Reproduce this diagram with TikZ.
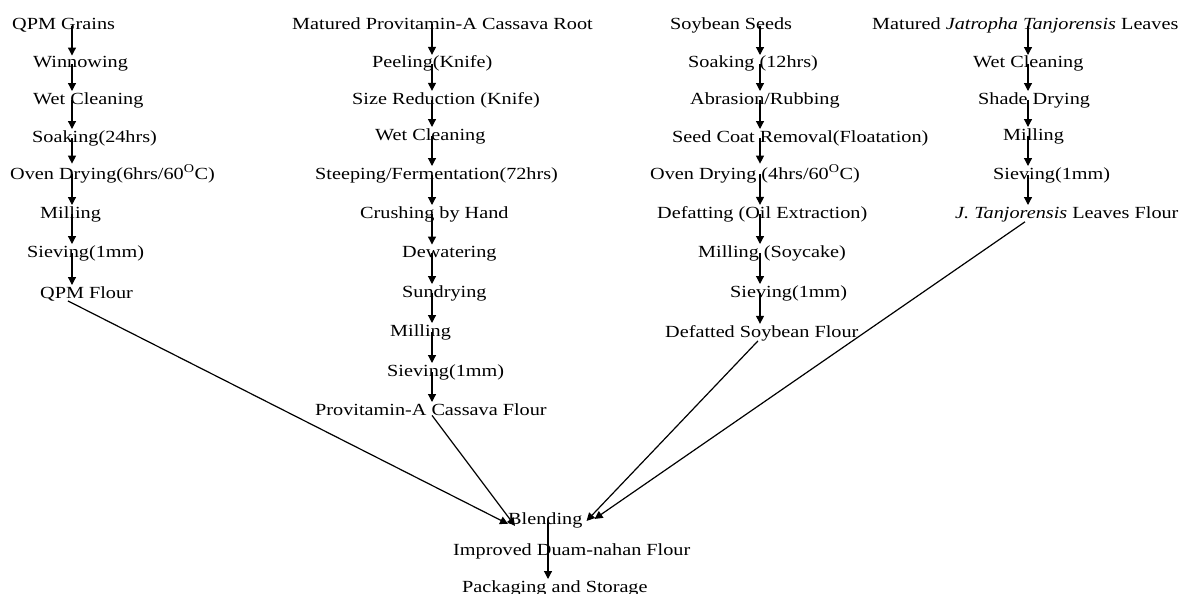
\documentclass[tikz,border=0pt]{standalone}
\usepackage{fontspec}
\setmainfont{Liberation Serif}[FakeStretch=1.19]
\usetikzlibrary{arrows.meta}
\begin{document}
\begin{tikzpicture}[x=1pt,y=-1pt,
  lbl/.style={anchor=base west,inner sep=0pt,font=\fontsize{17}{20}\selectfont},
  arr/.style={draw=black,line width=1.2pt,-{Triangle[length=8pt,width=8pt]},shorten >=1pt}]
\useasboundingbox (0,0) rectangle (1184,594);
\coordinate (X1) at (72,0);
\coordinate (X2) at (432,0);
\coordinate (X3) at (760,0);
\coordinate (X4) at (1028,0);
\coordinate (X5) at (548,0);
% QPM column
\node[lbl] (q1) at (12,30) {QPM Grains};
\node[lbl] (q2) at (33,68) {Winnowing};
\node[lbl] (q3) at (33,104) {Wet Cleaning};
\node[lbl] (q4) at (32,142) {Soaking(24hrs)};
\node[lbl] (q5) at (10,179) {Oven Drying(6hrs/60\textsuperscript{O}C)};
\node[lbl] (q6) at (40,218) {Milling};
\node[lbl] (q7) at (27,257) {Sieving(1mm)};
\node[lbl] (q8) at (40,298) {QPM Flour};
% Cassava column
\node[lbl] (c1) at (292,30) {Matured Provitamin-A Cassava Root};
\node[lbl] (c2) at (372,68) {Peeling(Knife)};
\node[lbl] (c3) at (352,104) {Size Reduction (Knife)};
\node[lbl] (c4) at (375,140) {Wet Cleaning};
\node[lbl] (c5) at (315,179) {Steeping/Fermentation(72hrs)};
\node[lbl] (c6) at (360,218) {Crushing by Hand};
\node[lbl] (c7) at (402,257) {Dewatering};
\node[lbl] (c8) at (402,297) {Sundrying};
\node[lbl] (c9) at (390,336) {Milling};
\node[lbl] (c10) at (387,376) {Sieving(1mm)};
\node[lbl] (c11) at (315,415) {Provitamin-A Cassava Flour};
% Soybean column
\node[lbl] (s1) at (670,30) {Soybean Seeds};
\node[lbl] (s2) at (688,68) {Soaking (12hrs)};
\node[lbl] (s3) at (690,104) {Abrasion/Rubbing};
\node[lbl] (s4) at (672,142) {Seed Coat Removal(Floatation)};
\node[lbl] (s5) at (650,179) {Oven Drying (4hrs/60\textsuperscript{O}C)};
\node[lbl] (s6) at (657,218) {Defatting (Oil Extraction)};
\node[lbl] (s7) at (698,257) {Milling (Soycake)};
\node[lbl] (s8) at (730,297) {Sieving(1mm)};
\node[lbl] (s9) at (665,337) {Defatted Soybean Flour};
% Jatropha column
\node[lbl] (j1) at (872,30) {Matured \textit{Jatropha Tanjorensis} Leaves};
\node[lbl] (j2) at (973,68) {Wet Cleaning};
\node[lbl] (j3) at (978,104) {Shade Drying};
\node[lbl] (j4) at (1003,140) {Milling};
\node[lbl] (j5) at (993,179) {Sieving(1mm)};
\node[lbl] (j6) at (955,218) {\textit{J. Tanjorensis} Leaves Flour};
% Bottom
\node[lbl] (b1) at (508,524) {Blending};
\node[lbl] (b2) at (453,555) {Improved Duam-nahan Flour};
\node[lbl] (b3) at (462,592) {Packaging and Storage};
% column arrows
\foreach \a/\b in {q1/q2,q2/q3,q3/q4,q4/q5,q5/q6,q6/q7,q7/q8}
  \draw[arr] (\a -| X1) -- (\b.north -| X1);
\foreach \a/\b in {c1/c2,c2/c3,c3/c4,c4/c5,c5/c6,c6/c7,c7/c8,c8/c9,c9/c10,c10/c11}
  \draw[arr] (\a -| X2) -- (\b.north -| X2);
\foreach \a/\b in {s1/s2,s2/s3,s3/s4,s4/s5,s5/s6,s6/s7,s7/s8,s8/s9}
  \draw[arr] (\a -| X3) -- (\b.north -| X3);
\foreach \a/\b in {j1/j2,j2/j3,j3/j4,j4/j5,j5/j6}
  \draw[arr] (\a -| X4) -- (\b.north -| X4);
% converging arrows
\draw[arr,shorten >=0pt] ([xshift=-4pt]q8.south -| X1) -- ([yshift=-4pt]b1.west);
\draw[arr,shorten >=0pt] (c11.south -| X2) -- ([xshift=7pt,yshift=-6pt]b1.west);
\draw[arr,shorten >=0pt] ([xshift=-2pt]s9.south -| X3) -- ([xshift=4pt,yshift=-1pt]b1.east);
\draw[arr,shorten >=0pt] ([xshift=-3pt]j6.south -| X4) -- ([xshift=12pt,yshift=1pt]b1.east);
\draw[arr] (b1 -| X5) -- (b3.north -| X5);
\end{tikzpicture}
\end{document}
